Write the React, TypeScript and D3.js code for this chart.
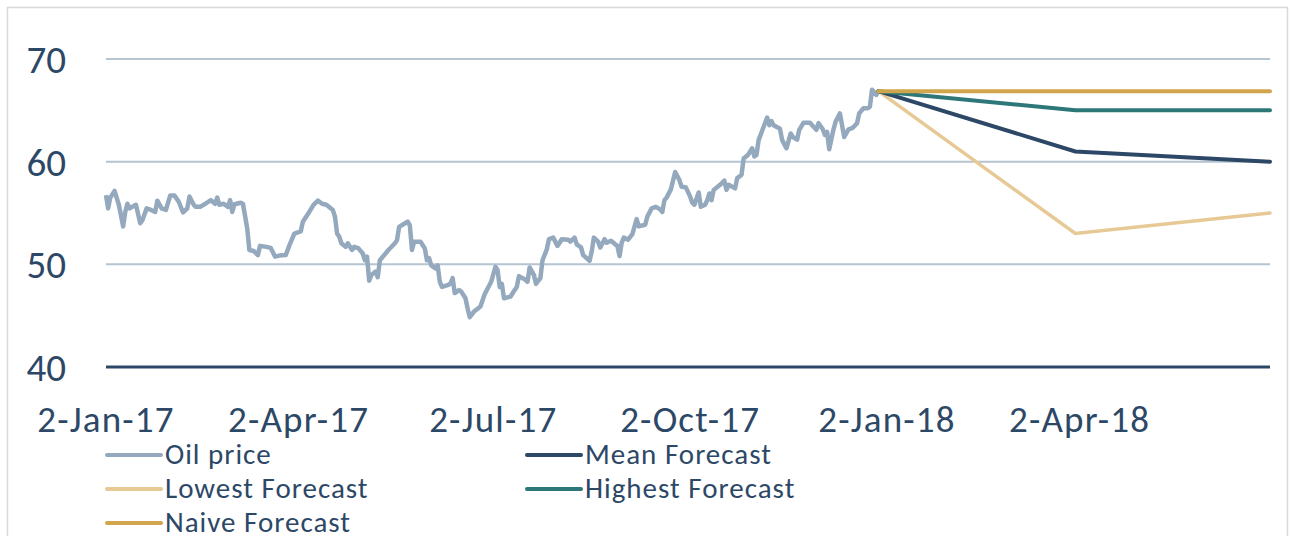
import React from "react";
import * as d3 from "d3";

// ---- Data ----
// Oil price: days since 2-Jan-17 and price (USD/bbl)
const oilDays = [0,1,2,4,6,8,9,10,11,14,16,17,19,21,23,24,26,28,30,32,34,36,38,39,41,42,44,46,49,51,52,53,55,57,58,59,60,63,64,66,67,69,71,72,75,77,79,81,84,86,88,91,92,95,97,99,101,103,106,107,108,109,110,112,113,115,116,118,120,121,122,123,124,126,127,128,130,132,135,136,137,139,141,142,143,144,147,149,150,151,152,154,155,156,157,160,161,162,163,165,166,168,169,170,172,175,177,178,180,182,183,184,185,186,189,191,192,193,196,197,198,200,201,202,203,204,206,207,209,211,212,213,216,217,219,220,222,223,226,227,228,230,231,233,234,236,238,239,240,241,242,244,246,248,249,252,253,255,257,259,260,261,262,264,266,268,269,271,273,274,275,277,278,280,281,282,283,284,287,289,290,291,294,295,297,298,300,302,303,304,305,307,309,310,311,312,315,316,318,320,321,323,324,326,329,330,332,333,335,336,337,338,340,341,343,345,347,349,351,352,354,356,357,358,360,361];
const oilValues = [56.75,55.45,56.5,57.15,55.8,53.7,55.1,55.9,55.45,55.8,54.0,54.3,55.45,55.3,55.1,56.2,55.45,55.3,56.7,56.7,56.1,55.05,55.45,56.6,55.8,55.6,55.6,55.85,56.25,55.9,56.5,55.8,55.9,55.6,56.25,55.1,55.85,56.0,55.9,53.5,51.4,51.3,50.9,51.8,51.7,51.6,50.75,50.85,50.9,52.0,53.0,53.2,54.15,55.1,55.8,56.2,55.9,55.8,55.3,54.65,53.0,52.7,52.05,51.7,52.05,51.4,51.7,51.55,51.05,50.4,50.75,48.4,48.95,49.3,48.75,50.4,50.9,51.4,52.05,52.35,53.65,53.9,54.15,53.8,51.4,52.2,52.2,51.55,50.4,50.6,49.9,49.6,49.9,48.3,47.8,48.0,48.15,48.65,47.2,47.5,47.35,46.7,45.7,44.85,45.4,45.9,47.1,47.5,48.3,49.75,49.45,47.8,48.1,46.7,46.85,47.5,47.8,48.85,48.5,48.3,49.7,48.95,48.1,48.4,48.65,50.4,51.45,52.45,52.6,51.8,52.1,52.45,52.4,52.2,52.6,51.95,51.65,50.9,50.35,51.25,52.6,52.2,51.65,52.45,52.1,52.3,51.95,51.8,50.8,52.1,52.6,52.4,52.95,54.4,53.7,53.85,54.65,55.45,55.6,55.35,55.1,56.25,56.5,57.3,59.0,58.2,57.55,57.5,56.6,56.0,55.8,57.0,55.6,55.8,56.25,56.9,56.25,57.25,57.75,58.15,57.25,57.75,57.4,58.4,58.7,60.3,60.65,61.3,60.5,60.65,62.1,63.2,64.3,63.55,63.95,63.55,63.2,62.1,61.3,62.75,62.4,62.15,63.1,63.8,63.8,63.55,63.1,63.75,63.15,62.6,62.9,61.2,63.15,63.9,64.7,62.4,63.15,63.3,63.75,64.7,65.2,65.2,65.35,67.0,66.5,66.87];

// Forecast points
const forecastDates = ["2017-12-29", "2018-03-31", "2018-06-30"];
const meanForecast = [66.87, 61, 60];
const lowestForecast = [66.87, 53, 55];
const highestForecast = [66.87, 65, 65];
const naiveForecast = [66.87, 66.87, 66.87];

const yTicks = [40, 50, 60, 70];
const xTickDates = ["2017-01-02", "2017-04-02", "2017-07-02", "2017-10-02", "2018-01-02", "2018-04-02"];

const seriesNames = ["Oil price", "Mean Forecast", "Lowest Forecast", "Highest Forecast", "Naive Forecast"];
const seriesColors = ["#94a9bd", "#2c4866", "#e6c995", "#2e7779", "#d1a54c"];

const W = 1291;
const H = 536;
const TEXT = "#2c4866";
const FONT = "Calibri, Carlito, Lato, sans-serif";

export default function App() {
  const parse = d3.timeParse("%Y-%m-%d");
  const start = parse("2017-01-02")!;
  const end = parse("2018-06-30")!;
  const x = d3.scaleTime().domain([start, end]).range([106, 1270]);
  const y = d3.scaleLinear().domain([40, 70]).range([367, 59]);

  const line = d3
    .line<[Date, number]>()
    .x((d) => x(d[0]))
    .y((d) => y(d[1]));

  const oil: [Date, number][] = oilDays.map((d, i) => [d3.timeDay.offset(start, d), oilValues[i]]);
  const fd = forecastDates.map((s) => parse(s)!);
  const mk = (vals: number[]): [Date, number][] => fd.map((d, i) => [d, vals[i]]);

  const fmt = d3.timeFormat("%-d-%b-%y");

  const legendItems = [
    { i: 0, lx: 107, ly: 455 },
    { i: 1, lx: 527, ly: 455 },
    { i: 2, lx: 107, ly: 489 },
    { i: 3, lx: 527, ly: 489 },
    { i: 4, lx: 107, ly: 523 },
  ];

  return (
    <svg
      width={W}
      height={H}
      style={{ position: "absolute", left: 0, top: 0, background: "#fff" }}
      fontFamily={FONT}
    >
      <rect x={7.5} y={7.5} width={1280} height={560} fill="#fff" stroke="#d9d9d9" strokeWidth={1.5} />

      {/* gridlines */}
      {yTicks.map((t) => (
        <line
          key={t}
          x1={106}
          x2={1270}
          y1={y(t)}
          y2={y(t)}
          stroke={t === 40 ? "#2c4866" : "#b5c4d1"}
          strokeWidth={t === 40 ? 3 : 2}
        />
      ))}

      {/* y labels */}
      {yTicks.map((t) => (
        <text key={t} x={66} y={y(t)} dy="0.36em" textAnchor="end" fontSize={39} fill={TEXT}>
          {t}
        </text>
      ))}

      {/* x labels */}
      {xTickDates.map((s) => {
        const d = parse(s)!;
        return (
          <text key={s} x={x(d)} y={432} textAnchor="middle" fontSize={37} letterSpacing={1.2} fill={TEXT}>
            {fmt(d)}
          </text>
        );
      })}

      {/* series */}
      <path d={line(oil)!} fill="none" stroke={seriesColors[0]} strokeWidth={4.5} strokeLinejoin="round" />
      <path d={line(mk(lowestForecast))!} fill="none" stroke={seriesColors[2]} strokeWidth={3.5} strokeLinecap="round" />
      <path d={line(mk(meanForecast))!} fill="none" stroke={seriesColors[1]} strokeWidth={4} strokeLinecap="round" />
      <path d={line(mk(highestForecast))!} fill="none" stroke={seriesColors[3]} strokeWidth={4} strokeLinecap="round" />
      <path d={line(mk(naiveForecast))!} fill="none" stroke={seriesColors[4]} strokeWidth={4} strokeLinecap="round" />

      {/* legend */}
      {legendItems.map(({ i, lx, ly }) => (
        <g key={i}>
          <line x1={lx} x2={lx + 54} y1={ly} y2={ly} stroke={seriesColors[i]} strokeWidth={4} strokeLinecap="round" />
          <text x={lx + 58} y={ly + 9} fontSize={29} letterSpacing={1} fill={TEXT}>
            {seriesNames[i]}
          </text>
        </g>
      ))}
    </svg>
  );
}
